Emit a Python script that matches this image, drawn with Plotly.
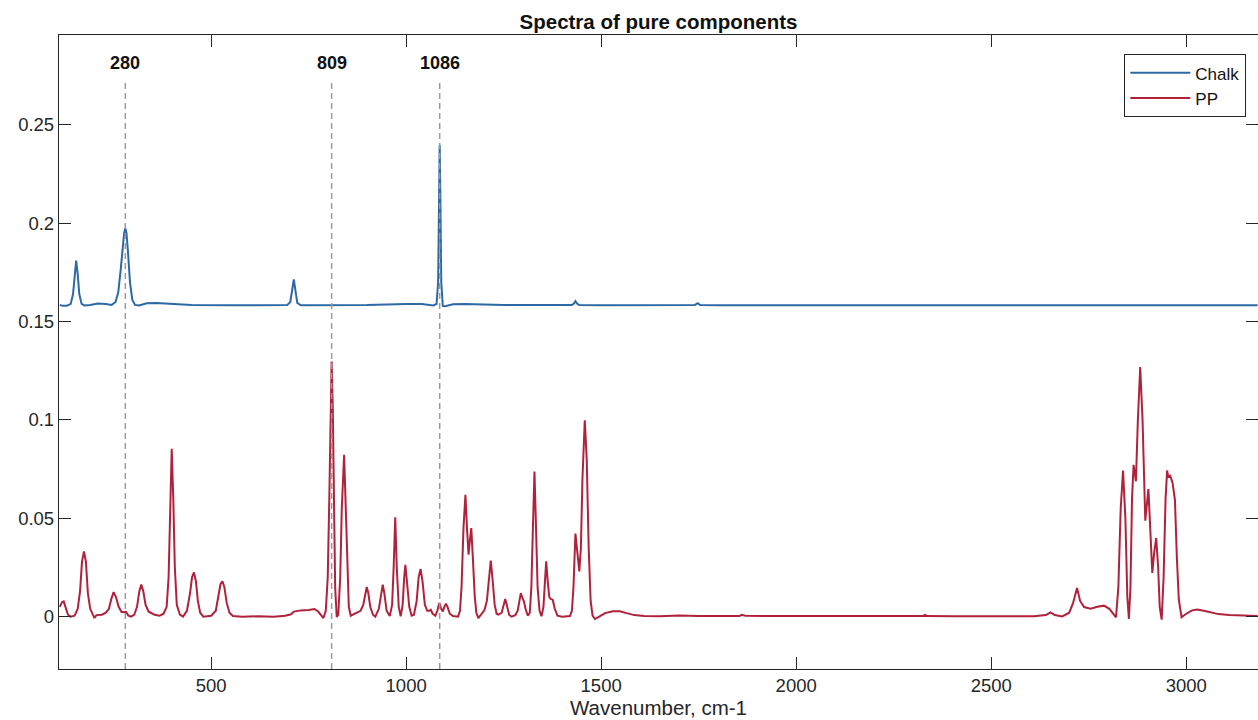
import plotly.graph_objects as go

# ---------------- data ----------------
chalk_x = [112, 120, 130, 140, 146, 150, 154, 158, 162, 168, 175, 190, 210, 230, 245,
           255, 262, 268, 273, 277, 280, 283, 287, 292, 298, 305, 315, 335, 360, 400,
           450, 550, 650, 695, 703, 708, 712, 716, 721, 730, 800, 900, 1000, 1040, 1070,
           1078, 1082, 1084, 1086, 1088, 1090, 1094, 1100, 1120, 1150, 1250, 1400, 1425,
           1430, 1434, 1438, 1444, 1500, 1700, 1740, 1747, 1754, 1800, 2200, 2600, 2800,
           3000, 3183]
chalk_y = [0.1585, 0.1580, 0.1580, 0.1590, 0.1640, 0.1740, 0.1810, 0.1740, 0.1640, 0.1590,
           0.1582, 0.1585, 0.1592, 0.1590, 0.1585, 0.1600, 0.1650, 0.1760, 0.1880, 0.1950,
           0.1975, 0.1950, 0.1850, 0.1700, 0.1610, 0.1585, 0.1582, 0.1593, 0.1595, 0.1590,
           0.1585, 0.1583, 0.1583, 0.1584, 0.1600, 0.1660, 0.1714, 0.1660, 0.1595, 0.1583,
           0.1583, 0.1584, 0.1590, 0.1590, 0.1582, 0.1590, 0.1700, 0.2100, 0.2398, 0.2100,
           0.1700, 0.1580, 0.1578, 0.1588, 0.1590, 0.1585, 0.1584, 0.1584, 0.1592, 0.1604,
           0.1592, 0.1584, 0.1583, 0.1583, 0.1584, 0.1594, 0.1584, 0.1583, 0.1583, 0.1584,
           0.1583, 0.1583, 0.1583]

pp_x = [112, 118, 122, 127, 133, 140, 150, 158, 164, 169, 174, 179, 184, 190, 197, 201,
        206, 212, 220, 230, 238, 244, 250, 256, 263, 270, 277, 282, 288, 295, 303, 310,
        316, 321, 326, 332, 340, 355, 368, 378, 386, 391, 395, 399, 403, 407, 412, 420,
        428, 438, 446, 451, 456, 461, 466, 472, 480, 500, 512, 519, 524, 529, 534, 540,
        547, 556, 580, 620, 660, 690, 705, 712, 730, 750, 765, 775, 783, 788, 794, 799,
        803, 806, 809, 812, 815, 818, 822, 826, 831, 835, 841, 845, 849, 853, 858, 870,
        883, 890, 895, 899, 903, 908, 915, 921, 930, 936, 940, 944, 950, 958, 964, 968,
        972, 976, 981, 986, 991, 995, 998, 1002, 1008, 1014, 1020, 1027, 1032, 1037, 1042,
        1048, 1054, 1059, 1063, 1068, 1075, 1080, 1085, 1090, 1094, 1098, 1102, 1106, 1112,
        1120, 1133, 1138, 1142, 1147, 1152, 1156, 1160, 1164, 1167, 1171, 1176, 1180, 1185,
        1192, 1201, 1207, 1212, 1217, 1222, 1227, 1232, 1237, 1245, 1250, 1254, 1258, 1264,
        1270, 1280, 1286, 1290, 1294, 1298, 1302, 1306, 1312, 1317, 1321, 1325, 1329, 1333,
        1337, 1342, 1347, 1352, 1356, 1359, 1363, 1367, 1370, 1376, 1381, 1388, 1400, 1420,
        1425, 1429, 1434, 1440, 1444, 1448, 1452, 1458, 1463, 1468, 1473, 1478, 1484, 1495,
        1510, 1530, 1548, 1565, 1585, 1610, 1650, 1700, 1750, 1800, 1855, 1860, 1870, 1950,
        2050, 2150, 2250, 2325, 2330, 2336, 2400, 2500, 2570, 2610, 2640, 2652, 2663, 2682,
        2700, 2710, 2720, 2728, 2738, 2755, 2772, 2789, 2803, 2814, 2820, 2826, 2832, 2838,
        2844, 2849, 2853, 2857, 2861, 2865, 2871, 2876, 2882, 2888, 2895, 2903, 2908, 2913,
        2918, 2923, 2928, 2932, 2937, 2942, 2947, 2951, 2954, 2959, 2965, 2971, 2976, 2981,
        2988, 3000, 3015, 3028, 3045, 3065, 3083, 3110, 3150, 3183]
pp_y = [0.0050, 0.0075, 0.0078, 0.0050, 0.0010, 0.0000, 0.0005, 0.0040, 0.0130, 0.0280,
        0.0332, 0.0280, 0.0120, 0.0040, 0.0005, -0.0007, 0.0008, 0.0010, 0.0010, 0.0020,
        0.0040, 0.0090, 0.0125, 0.0100, 0.0050, 0.0025, 0.0022, 0.0024, 0.0005, 0.0000,
        0.0010, 0.0050, 0.0130, 0.0163, 0.0130, 0.0060, 0.0025, 0.0010, 0.0005, 0.0015,
        0.0050, 0.0200, 0.0600, 0.0854, 0.0600, 0.0250, 0.0060, 0.0010, 0.0000, 0.0030,
        0.0120, 0.0200, 0.0225, 0.0180, 0.0080, 0.0020, 0.0000, 0.0005, 0.0030, 0.0100,
        0.0165, 0.0180, 0.0150, 0.0070, 0.0020, 0.0003, 0.0000, 0.0002, 0.0000, 0.0005,
        0.0012, 0.0026, 0.0032, 0.0034, 0.0039, 0.0025, 0.0003, -0.0007, 0.0030, 0.0200,
        0.0600, 0.1050, 0.1297, 0.1050, 0.0500, 0.0150, -0.0002, 0.0010, 0.0200, 0.0550,
        0.0823, 0.0550, 0.0200, 0.0050, 0.0005, 0.0015, 0.0030, 0.0060, 0.0120, 0.0151,
        0.0120, 0.0050, 0.0010, 0.0000, 0.0040, 0.0130, 0.0163, 0.0120, 0.0030, 0.0003,
        0.0060, 0.0250, 0.0505, 0.0250, 0.0050, 0.0002, 0.0060, 0.0200, 0.0263, 0.0180,
        0.0050, 0.0005, 0.0010, 0.0080, 0.0200, 0.0242, 0.0180, 0.0060, 0.0030, 0.0030,
        0.0035, 0.0015, 0.0005, 0.0030, 0.0070, 0.0040, 0.0027, 0.0050, 0.0066, 0.0050,
        0.0015, 0.0003, 0.0000, 0.0030, 0.0150, 0.0450, 0.0620, 0.0450, 0.0315, 0.0400,
        0.0450, 0.0300, 0.0100, 0.0020, -0.0007, 0.0010, 0.0035, 0.0080, 0.0180, 0.0285,
        0.0180, 0.0060, 0.0015, 0.0010, 0.0020, 0.0060, 0.0090, 0.0060, 0.0010, 0.0000,
        0.0008, 0.0030, 0.0080, 0.0120, 0.0095, 0.0078, 0.0040, 0.0005, 0.0020, 0.0150,
        0.0450, 0.0738, 0.0450, 0.0150, 0.0030, 0.0002, 0.0050, 0.0180, 0.0281, 0.0180,
        0.0100, 0.0091, 0.0085, 0.0040, 0.0005, 0.0000, 0.0003, 0.0030, 0.0150, 0.0422,
        0.0300, 0.0230, 0.0350, 0.0700, 0.0998, 0.0800, 0.0350, 0.0080, 0.0005, -0.0012,
        0.0000, 0.0018, 0.0027, 0.0027, 0.0018, 0.0008, 0.0003, 0.0002, 0.0006, 0.0003,
        0.0004, 0.0003, 0.0010, 0.0005, 0.0003, 0.0002, 0.0003, 0.0002, 0.0003, 0.0009,
        0.0003, 0.0002, 0.0002, 0.0004, 0.0002, 0.0008, 0.0022, 0.0008, 0.0001, 0.0020,
        0.0070, 0.0146, 0.0080, 0.0049, 0.0040, 0.0050, 0.0056, 0.0040, 0.0008, -0.0003,
        0.0150, 0.0550, 0.0743, 0.0500, 0.0100, -0.0012, 0.0150, 0.0600, 0.0772, 0.0688,
        0.1000, 0.1269, 0.1000, 0.0488, 0.0649, 0.0450, 0.0222, 0.0330, 0.0400, 0.0250,
        0.0050, -0.0015, 0.0200, 0.0600, 0.0743, 0.0710, 0.0716, 0.0680, 0.0594, 0.0300,
        0.0086, -0.0003, 0.0015, 0.0032, 0.0036, 0.0030, 0.0020, 0.0013, 0.0008, 0.0004,
        0.0003]

marked_peaks = [280, 809, 1086]
x_ticks = [500, 1000, 1500, 2000, 2500, 3000]
y_ticks = [0, 0.05, 0.1, 0.15, 0.2, 0.25]
y_tick_labels = ["0", "0.05", "0.1", "0.15", "0.2", "0.25"]

X_RANGE = [110, 3184]
Y_RANGE = [-0.0266, 0.2957]

FONT = "Liberation Sans, Arial, Helvetica, sans-serif"
AXIS_COLOR = "#262626"

fig = go.Figure()
fig.add_trace(go.Scatter(x=chalk_x, y=chalk_y, mode="lines", name="Chalk",
                         line=dict(color="#2c69a5", width=2)))
fig.add_trace(go.Scatter(x=pp_x, y=pp_y, mode="lines", name="PP",
                         line=dict(color="#b0223b", width=2)))

for p in marked_peaks:
    fig.add_shape(type="line", xref="x", yref="y", x0=p, x1=p, y0=Y_RANGE[0], y1=0.2729,
                  line=dict(color="#9a9a9a", width=1.5, dash="6px,4px"), layer="above")
    fig.add_annotation(x=p, y=0.2815, xref="x", yref="y", text="<b>%d</b>" % p,
                       showarrow=False, font=dict(size=18, color="#111111", family=FONT))

axis_common = dict(showline=True, linecolor=AXIS_COLOR, linewidth=1.3, mirror="ticks",
                   ticks="inside", ticklen=12, tickwidth=1.3, tickcolor=AXIS_COLOR,
                   showgrid=False, zeroline=False,
                   tickfont=dict(size=18.5, color="#262626", family=FONT))

fig.update_layout(
    width=1258, height=720,
    margin=dict(l=59, r=0, t=35, b=51, pad=0),
    paper_bgcolor="white", plot_bgcolor="white",
    font=dict(family=FONT, color="#262626"),
    title=dict(text="<b>Spectra of pure components</b>", x=0.5, xref="paper",
               y=1 - 22 / 720, yanchor="middle", font=dict(size=20.5, color="#111111")),
    xaxis=dict(range=X_RANGE, tickvals=x_ticks, **axis_common,
               title=dict(text="Wavenumber, cm-1", font=dict(size=20.5, family=FONT),
                          standoff=2)),
    yaxis=dict(range=Y_RANGE, tickvals=y_ticks, ticktext=y_tick_labels, **axis_common),
    legend=dict(x=0.990, xanchor="right", y=0.970, yanchor="top",
                bgcolor="white", bordercolor=AXIS_COLOR, borderwidth=1.3,
                font=dict(size=17, family=FONT, color="#111111"),
                itemwidth=60, tracegroupgap=0),
    showlegend=True,
)

fig.write_html("out.html")
